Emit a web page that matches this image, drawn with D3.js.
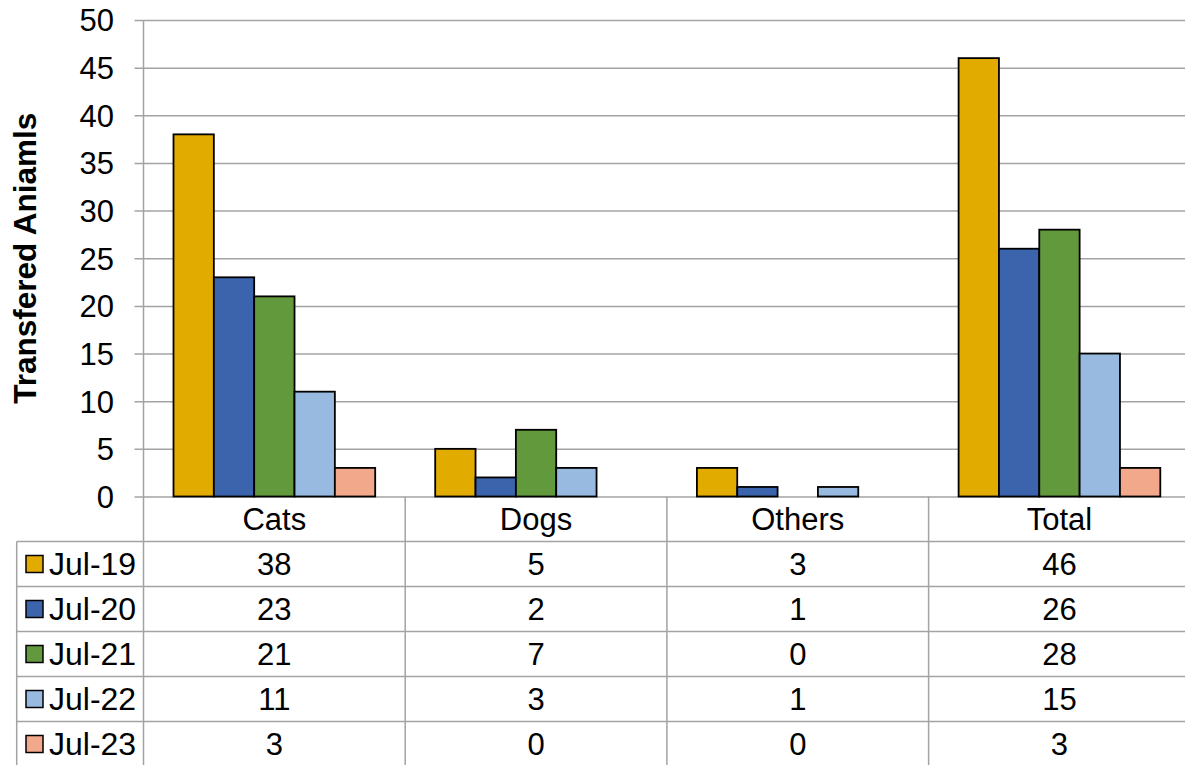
<!DOCTYPE html>
<html><head><meta charset="utf-8">
<script src="https://cdn.jsdelivr.net/npm/d3@7"></script>
<style>body{margin:0;background:#fff;overflow:hidden}svg{display:block}text{font-family:Arial,"Liberation Sans",sans-serif;fill:#000}</style>
</head><body>
<svg id="c" width="1185" height="765"></svg>
<script>
const categories = ["Cats","Dogs","Others","Total"];
const seriesNames = ["Jul-19","Jul-20","Jul-21","Jul-22","Jul-23"];
const seriesColors = ["#E2AB00","#3B64AD","#63993D","#98BAE0","#F2A88B"];
const jul19 = [38,5,3,46];
const jul20 = [23,2,1,26];
const jul21 = [21,7,0,28];
const jul22 = [11,3,1,15];
const jul23 = [3,0,0,3];
const yTicks = [0,5,10,15,20,25,30,35,40,45,50];
const yTitle = "Transfered Aniamls";

(function(){
const seriesValues = [jul19, jul20, jul21, jul22, jul23];
const svg = d3.select("#c");
const grid = "#a3a3a3";
const fs = "31px";
const leftX = 143.5, bandW = 261.7, topY = 20, zeroY = 496.5, rowH = 45;
const x = d3.scaleBand().domain(categories).range([leftX, leftX + bandW*4]);
const x1 = d3.scaleBand().domain(seriesNames).range([30, bandW-30]);
const y = d3.scaleLinear().domain([0,50]).range([zeroY, topY]);

// gridlines
const yAxis = d3.axisLeft(y).tickValues(yTicks).tickSize(-(1200-leftX)).tickSizeOuter(0).tickPadding(29.5);
const ga = svg.append("g").attr("transform",`translate(${leftX},0)`).call(yAxis);
ga.select(".domain").remove();
ga.selectAll(".tick line").attr("stroke",grid).attr("stroke-width",1.5).attr("x1",-9);
ga.selectAll(".tick text").style("font-size",fs).attr("font-family","Arial, 'Liberation Sans', sans-serif").attr("fill","#000").attr("dy","0.35em");

// bars
seriesNames.forEach((s,si)=>{
  svg.append("g").selectAll("rect").data(categories.map((c,i)=>({c,v:seriesValues[si][i]})).filter(d=>d.v>0))
    .join("rect")
    .attr("x",d=>x(d.c)+x1(s))
    .attr("y",d=>y(d.v))
    .attr("width",x1.bandwidth())
    .attr("height",d=>y(0)-y(d.v))
    .attr("fill",seriesColors[si])
    .attr("stroke","#000").attr("stroke-width",1.8);
});

// table lines
const tableBottom = 800;
const lines = svg.append("g").attr("stroke",grid).attr("stroke-width",1.5);
lines.append("line").attr("x1",leftX).attr("x2",leftX).attr("y1",topY).attr("y2",tableBottom);
categories.slice(1).forEach(c=>{
  lines.append("line").attr("x1",x(c)).attr("x2",x(c)).attr("y1",zeroY).attr("y2",tableBottom);
});
lines.append("line").attr("x1",16.7).attr("x2",16.7).attr("y1",zeroY+rowH).attr("y2",tableBottom);
seriesNames.forEach((s,i)=>{
  const yy = zeroY + rowH*(i+1);
  lines.append("line").attr("x1",16.7).attr("x2",1200).attr("y1",yy).attr("y2",yy);
});

// header labels
svg.append("g").selectAll("text").data(categories).join("text")
  .attr("x",c=>x(c)+bandW/2).attr("y",zeroY+rowH/2).attr("dy","0.35em")
  .attr("text-anchor","middle").style("font-size",fs).text(c=>c);

// rows
seriesNames.forEach((s,si)=>{
  const cy = zeroY + rowH*(si+1) + rowH/2;
  svg.append("rect").attr("x",26).attr("y",cy-8.5).attr("width",17).attr("height",17)
    .attr("fill",seriesColors[si]).attr("stroke","#000").attr("stroke-width",1.5);
  svg.append("text").attr("x",49).attr("y",cy).attr("dy","0.35em").style("font-size","32px").text(s);
  svg.append("g").selectAll("text").data(categories).join("text")
    .attr("x",c=>x(c)+bandW/2).attr("y",cy).attr("dy","0.35em")
    .attr("text-anchor","middle").style("font-size",fs)
    .text((c,i)=>seriesValues[si][i]);
});

// y title
svg.append("text").attr("transform",`translate(36,${(topY+zeroY)/2}) rotate(-90)`)
  .attr("text-anchor","middle").style("font-size","31.5px").style("font-weight","bold").text(yTitle);
})();
</script>
</body></html>
